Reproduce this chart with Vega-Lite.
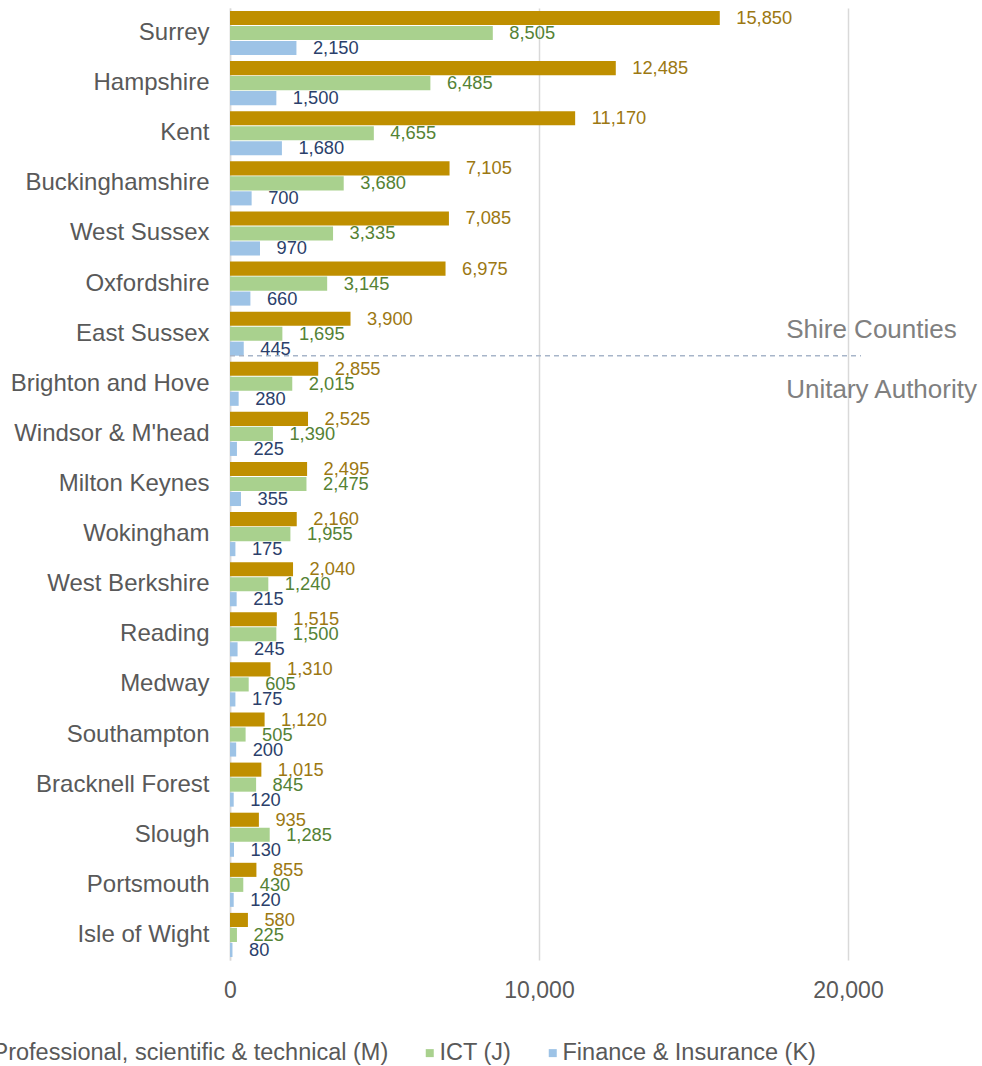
{
  "$schema": "https://vega.github.io/schema/vega-lite/v6.json",
  "width": 618,
  "height": 952,
  "autosize": {"type": "none"},
  "padding": {"left": 230, "top": 8, "right": 134, "bottom": 106},
  "config": {"font": "Liberation Sans", "view": {"stroke": null}},
  "datasets": {
    "main": [
      {"area": "Surrey", "series": "Professional, scientific & technical (M)", "value": 15850},
      {"area": "Surrey", "series": "ICT (J)", "value": 8505},
      {"area": "Surrey", "series": "Finance & Insurance (K)", "value": 2150},
      {"area": "Hampshire", "series": "Professional, scientific & technical (M)", "value": 12485},
      {"area": "Hampshire", "series": "ICT (J)", "value": 6485},
      {"area": "Hampshire", "series": "Finance & Insurance (K)", "value": 1500},
      {"area": "Kent", "series": "Professional, scientific & technical (M)", "value": 11170},
      {"area": "Kent", "series": "ICT (J)", "value": 4655},
      {"area": "Kent", "series": "Finance & Insurance (K)", "value": 1680},
      {"area": "Buckinghamshire", "series": "Professional, scientific & technical (M)", "value": 7105},
      {"area": "Buckinghamshire", "series": "ICT (J)", "value": 3680},
      {"area": "Buckinghamshire", "series": "Finance & Insurance (K)", "value": 700},
      {"area": "West Sussex", "series": "Professional, scientific & technical (M)", "value": 7085},
      {"area": "West Sussex", "series": "ICT (J)", "value": 3335},
      {"area": "West Sussex", "series": "Finance & Insurance (K)", "value": 970},
      {"area": "Oxfordshire", "series": "Professional, scientific & technical (M)", "value": 6975},
      {"area": "Oxfordshire", "series": "ICT (J)", "value": 3145},
      {"area": "Oxfordshire", "series": "Finance & Insurance (K)", "value": 660},
      {"area": "East Sussex", "series": "Professional, scientific & technical (M)", "value": 3900},
      {"area": "East Sussex", "series": "ICT (J)", "value": 1695},
      {"area": "East Sussex", "series": "Finance & Insurance (K)", "value": 445},
      {"area": "Brighton and Hove", "series": "Professional, scientific & technical (M)", "value": 2855},
      {"area": "Brighton and Hove", "series": "ICT (J)", "value": 2015},
      {"area": "Brighton and Hove", "series": "Finance & Insurance (K)", "value": 280},
      {"area": "Windsor & M'head", "series": "Professional, scientific & technical (M)", "value": 2525},
      {"area": "Windsor & M'head", "series": "ICT (J)", "value": 1390},
      {"area": "Windsor & M'head", "series": "Finance & Insurance (K)", "value": 225},
      {"area": "Milton Keynes", "series": "Professional, scientific & technical (M)", "value": 2495},
      {"area": "Milton Keynes", "series": "ICT (J)", "value": 2475},
      {"area": "Milton Keynes", "series": "Finance & Insurance (K)", "value": 355},
      {"area": "Wokingham", "series": "Professional, scientific & technical (M)", "value": 2160},
      {"area": "Wokingham", "series": "ICT (J)", "value": 1955},
      {"area": "Wokingham", "series": "Finance & Insurance (K)", "value": 175},
      {"area": "West Berkshire", "series": "Professional, scientific & technical (M)", "value": 2040},
      {"area": "West Berkshire", "series": "ICT (J)", "value": 1240},
      {"area": "West Berkshire", "series": "Finance & Insurance (K)", "value": 215},
      {"area": "Reading", "series": "Professional, scientific & technical (M)", "value": 1515},
      {"area": "Reading", "series": "ICT (J)", "value": 1500},
      {"area": "Reading", "series": "Finance & Insurance (K)", "value": 245},
      {"area": "Medway", "series": "Professional, scientific & technical (M)", "value": 1310},
      {"area": "Medway", "series": "ICT (J)", "value": 605},
      {"area": "Medway", "series": "Finance & Insurance (K)", "value": 175},
      {"area": "Southampton", "series": "Professional, scientific & technical (M)", "value": 1120},
      {"area": "Southampton", "series": "ICT (J)", "value": 505},
      {"area": "Southampton", "series": "Finance & Insurance (K)", "value": 200},
      {"area": "Bracknell Forest", "series": "Professional, scientific & technical (M)", "value": 1015},
      {"area": "Bracknell Forest", "series": "ICT (J)", "value": 845},
      {"area": "Bracknell Forest", "series": "Finance & Insurance (K)", "value": 120},
      {"area": "Slough", "series": "Professional, scientific & technical (M)", "value": 935},
      {"area": "Slough", "series": "ICT (J)", "value": 1285},
      {"area": "Slough", "series": "Finance & Insurance (K)", "value": 130},
      {"area": "Portsmouth", "series": "Professional, scientific & technical (M)", "value": 855},
      {"area": "Portsmouth", "series": "ICT (J)", "value": 430},
      {"area": "Portsmouth", "series": "Finance & Insurance (K)", "value": 120},
      {"area": "Isle of Wight", "series": "Professional, scientific & technical (M)", "value": 580},
      {"area": "Isle of Wight", "series": "ICT (J)", "value": 225},
      {"area": "Isle of Wight", "series": "Finance & Insurance (K)", "value": 80}
    ],
    "divider": [{"area": "East Sussex", "start": 0, "end": 20420}],
    "shire": [{"area": "East Sussex", "pos": 18000, "label": "Shire Counties"}],
    "unitary": [{"area": "Brighton and Hove", "pos": 18000, "label": "Unitary Authority"}]
  },
  "layer": [
    {
      "data": {"name": "main"},
      "mark": {"type": "bar"},
      "encoding": {
        "y": {
          "field": "area", "type": "nominal",
          "sort": ["Surrey", "Hampshire", "Kent", "Buckinghamshire", "West Sussex", "Oxfordshire", "East Sussex", "Brighton and Hove", "Windsor & M'head", "Milton Keynes", "Wokingham", "West Berkshire", "Reading", "Medway", "Southampton", "Bracknell Forest", "Slough", "Portsmouth", "Isle of Wight"],
          "scale": {"paddingInner": 0.12, "paddingOuter": 0.06},
          "axis": {"title": null, "ticks": false, "labelFontSize": 24, "labelColor": "#595959", "labelPadding": 21, "labelLimit": 300, "domainColor": "#D9D9D9", "domainWidth": 1.5, "grid": false}
        },
        "x": {
          "field": "value", "type": "quantitative",
          "scale": {"domain": [0, 20000], "nice": false},
          "axis": {"title": null, "values": [0, 10000, 20000], "labelExpr": "format(datum.value, ',')", "labelFlush": false, "domain": false, "ticks": false, "labelFontSize": 23, "labelColor": "#595959", "labelPadding": 19, "gridColor": "#D9D9D9", "gridWidth": 1.5}
        },
        "yOffset": {
          "field": "series", "type": "nominal",
          "sort": ["Professional, scientific & technical (M)", "ICT (J)", "Finance & Insurance (K)"],
          "scale": {"paddingInner": 0.06, "paddingOuter": 0}
        },
        "color": {
          "field": "series", "type": "nominal",
          "scale": {"domain": ["Professional, scientific & technical (M)", "ICT (J)", "Finance & Insurance (K)"], "range": ["#BF8F00", "#A9D18E", "#9DC3E6"]},
          "legend": {"orient": "none", "direction": "horizontal", "legendX": -259, "legendY": 1033, "title": null, "symbolType": "square", "symbolSize": 64, "symbolStrokeWidth": 0, "labelFontSize": 23.5, "labelColor": "#595959", "columnPadding": 29, "labelOffset": -2, "labelLimit": 600}
        }
      }
    },
    {
      "data": {"name": "main"},
      "mark": {"type": "text", "align": "left", "baseline": "middle", "dx": 16.5, "dy": 1, "fontSize": 18.3},
      "encoding": {
        "y": {"field": "area", "type": "nominal", "sort": ["Surrey", "Hampshire", "Kent", "Buckinghamshire", "West Sussex", "Oxfordshire", "East Sussex", "Brighton and Hove", "Windsor & M'head", "Milton Keynes", "Wokingham", "West Berkshire", "Reading", "Medway", "Southampton", "Bracknell Forest", "Slough", "Portsmouth", "Isle of Wight"]},
        "x": {"field": "value", "type": "quantitative"},
        "yOffset": {"field": "series", "type": "nominal", "sort": ["Professional, scientific & technical (M)", "ICT (J)", "Finance & Insurance (K)"]},
        "text": {"field": "value", "type": "quantitative", "format": ","},
        "color": {
          "field": "series", "type": "nominal",
          "scale": {"domain": ["Professional, scientific & technical (M)", "ICT (J)", "Finance & Insurance (K)"], "range": ["#9C7812", "#548235", "#2B3F6B"]},
          "legend": null
        }
      }
    },
    {
      "data": {"name": "divider"},
      "mark": {"type": "rule", "strokeDash": [5, 4], "strokeWidth": 1.5, "color": "#A7B5C9"},
      "encoding": {
        "y": {"field": "area", "type": "nominal", "bandPosition": 1, "sort": ["Surrey", "Hampshire", "Kent", "Buckinghamshire", "West Sussex", "Oxfordshire", "East Sussex", "Brighton and Hove", "Windsor & M'head", "Milton Keynes", "Wokingham", "West Berkshire", "Reading", "Medway", "Southampton", "Bracknell Forest", "Slough", "Portsmouth", "Isle of Wight"]},
        "x": {"field": "start", "type": "quantitative"},
        "x2": {"field": "end"}
      }
    },
    {
      "data": {"name": "shire"},
      "mark": {"type": "text", "align": "left", "baseline": "middle", "fontSize": 26, "color": "#808080", "dy": -4},
      "encoding": {
        "y": {"field": "area", "type": "nominal", "sort": ["Surrey", "Hampshire", "Kent", "Buckinghamshire", "West Sussex", "Oxfordshire", "East Sussex", "Brighton and Hove", "Windsor & M'head", "Milton Keynes", "Wokingham", "West Berkshire", "Reading", "Medway", "Southampton", "Bracknell Forest", "Slough", "Portsmouth", "Isle of Wight"]},
        "x": {"field": "pos", "type": "quantitative"},
        "text": {"field": "label"}
      }
    },
    {
      "data": {"name": "unitary"},
      "mark": {"type": "text", "align": "left", "baseline": "middle", "fontSize": 26, "color": "#808080", "dy": 6},
      "encoding": {
        "y": {"field": "area", "type": "nominal", "sort": ["Surrey", "Hampshire", "Kent", "Buckinghamshire", "West Sussex", "Oxfordshire", "East Sussex", "Brighton and Hove", "Windsor & M'head", "Milton Keynes", "Wokingham", "West Berkshire", "Reading", "Medway", "Southampton", "Bracknell Forest", "Slough", "Portsmouth", "Isle of Wight"]},
        "x": {"field": "pos", "type": "quantitative"},
        "text": {"field": "label"}
      }
    }
  ],
  "resolve": {"scale": {"color": "independent"}}
}
